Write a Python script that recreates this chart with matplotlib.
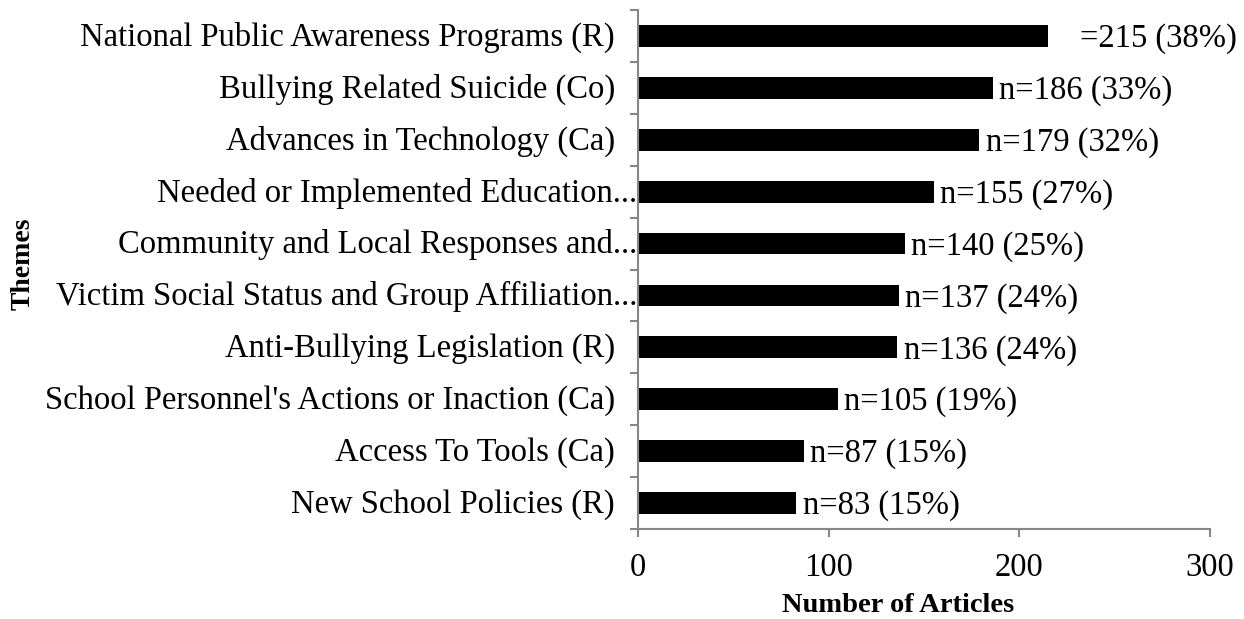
import matplotlib
matplotlib.use('Agg')
import matplotlib.pyplot as plt
from matplotlib.transforms import offset_copy

# Datos (de abajo hacia arriba)
themes = [
    "New School Policies (R)",
    "Access To Tools (Ca)",
    "School Personnel's Actions or Inaction (Ca)",
    "Anti-Bullying Legislation (R)",
    "Victim Social Status and Group Affiliation...",
    "Community and Local Responses and...",
    "Needed or Implemented Education...",
    "Advances in Technology (Ca)",
    "Bullying Related Suicide (Co)",
    "National Public Awareness Programs (R)",
]
counts = [83, 87, 105, 136, 137, 140, 155, 179, 186, 215]
labels = ["n=83 (15%)", "n=87 (15%)", "n=105 (19%)", "n=136 (24%)", "n=137 (24%)",
          "n=140 (25%)", "n=155 (27%)", "n=179 (32%)", "n=186 (33%)", "=215 (38%)"]
xticks = [0, 100, 200, 300]

plt.rcParams['font.family'] = ['Liberation Serif', 'DejaVu Serif']
GRIS = '#878787'

fig = plt.figure(figsize=(12.44, 6.19), dpi=100)
ax = fig.add_axes([638 / 1244, 1 - 529 / 619, (1210 - 638) / 1244, (529 - 10) / 619])

y = list(range(len(themes)))
ax.barh(y, counts, height=0.42, color='black')

for i, (c, lab) in enumerate(zip(counts, labels)):
    off = 23 if lab.startswith("=") else 4.5
    ax.annotate(lab, xy=(c, i), xytext=(off, -2), textcoords='offset points',
                va='center', ha='left', fontsize=23.5)

ax.set_xlim(0, 300)
ax.set_ylim(-0.5, len(themes) - 0.5)
ax.set_xticks(xticks)
ax.set_xticklabels([str(t) for t in xticks], fontsize=23.5)

# marcas del eje y entre categorias
ax.set_yticks([i - 0.5 for i in range(len(themes) + 1)])
ax.set_yticklabels([])
ax.tick_params(axis='y', which='major', length=6, width=1.5, color=GRIS)
ax.tick_params(axis='x', length=6, width=1.5, color=GRIS, pad=11)

# etiquetas de categoria (las truncadas se salen hasta el eje, como en Excel)
ytr = ax.get_yaxis_transform()
tr_normal = offset_copy(ytr, fig=fig, x=-16.6, y=-1, units='points')
tr_corto = offset_copy(ytr, fig=fig, x=-0.8, y=-1, units='points')
for i, t in enumerate(themes):
    tr = tr_corto if t.endswith("...") else tr_normal
    ax.text(0, i, t, transform=tr, ha='right', va='center', fontsize=23.5)

for s in ['top', 'right']:
    ax.spines[s].set_visible(False)
for s in ['left', 'bottom']:
    ax.spines[s].set_color(GRIS)
    ax.spines[s].set_linewidth(1.5)

ax.set_xlabel("Number of Articles", fontsize=20.5, fontweight='bold')
ax.xaxis.set_label_coords((898 - 638) / 572, (529 - 593) / 519)
fig.text(23 / 1244, 1 - 264 / 619, "Themes", rotation=90, fontsize=20,
         fontweight='bold', ha='center', va='center')

fig.savefig('out.png', dpi=100)
